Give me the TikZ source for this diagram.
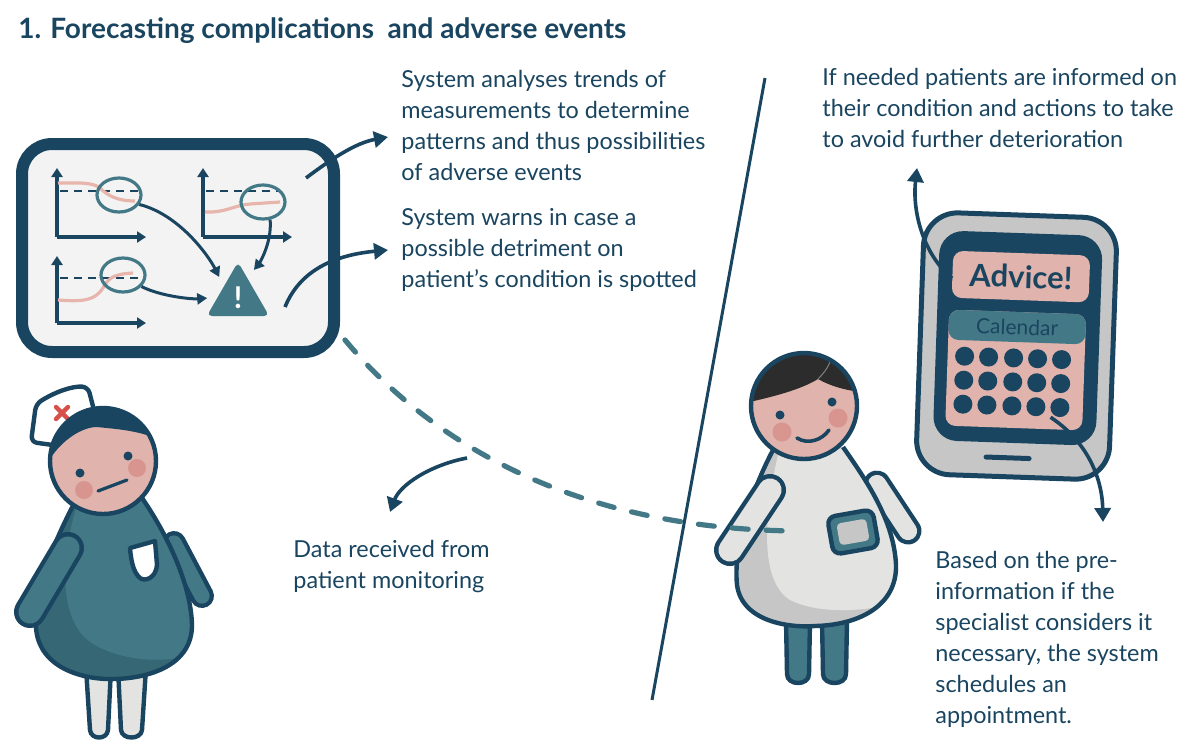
\documentclass[tikz,border=0pt]{standalone}
\usepackage{fontspec}
\setmainfont{Lato}
\usetikzlibrary{shapes.geometric,arrows.meta}

\definecolor{ink}{HTML}{1A4560}
\definecolor{petrol}{HTML}{437986}
\definecolor{petroldark}{HTML}{356874}
\definecolor{skin}{HTML}{E0B3AC}
\definecolor{blush}{HTML}{D8958F}
\definecolor{trend}{HTML}{E8B5AC}
\definecolor{screenbg}{HTML}{F3F3F3}
\definecolor{coat}{HTML}{E3E3E2}
\definecolor{coatshade}{HTML}{C6C6C6}
\definecolor{hairblack}{HTML}{2C2C2C}
\definecolor{crossred}{HTML}{D8504A}

\tikzset{
  outline/.style={draw=ink, line width=2.2pt, line join=round},
  axis/.style={ink, line width=2pt, -{Triangle[width=5.5pt,length=4.5pt]}},
  level/.style={ink, line width=1.1pt, dash pattern=on 4pt off 3pt},
  trendline/.style={trend, line width=1.6pt},
  zoomring/.style={ellipse, draw=petrol, line width=1.6pt, minimum width=22pt,
    minimum height=17pt, inner sep=0pt},
  smallarr/.style={ink, line width=1.5pt, -{Triangle[width=5.5pt,length=5pt]}, shorten >=5pt},
  bigarr/.style={ink, line width=1.8pt, -{Triangle[width=8pt,length=7pt]}},
  note/.style={anchor=north west, align=left, inner sep=0pt, text=ink,
    font=\fontsize{11.7}{15.5}\selectfont},
}

% capsule shaped arm: from, to, width, fill colour
\newcommand{\limb}[4]{%
  \draw[ink, line width=#3, line cap=round] #1 -- #2;
  \draw[#4, line width=#3-4.4pt, line cap=round] #1 -- #2;}

\begin{document}
\begin{tikzpicture}[x=0.5pt,y=-0.5pt]
\useasboundingbox[fill=white] (0,0) rectangle (1186,740);

\node[anchor=north west, inner sep=0pt, text=ink, font=\bfseries\fontsize{14}{16}\selectfont]
  (title) at (18,17) {1. Forecasting complications~ and adverse events};

% monitor with trend charts
\node[draw=ink, line width=6pt, fill=screenbg, rounded corners=15pt,
  minimum width=156pt, minimum height=104pt] (monitor) at (178,248) {};

\draw[axis] (57,237) -- (57,168);
\draw[axis] (57,237) -- (146,237);
\draw[level] (60,191) -- (140,191);
\draw[trendline] (58,183) .. controls (80,183) and (92,182) .. (100,188)
  .. controls (108,196) and (118,201) .. (135,201);
\node[zoomring] (e1) at (119,195) {};

\draw[axis] (203,237) -- (203,168);
\draw[axis] (203,237) -- (292,237);
\draw[level] (206,191) -- (278,191);
\draw[trendline] (205,212) .. controls (225,213) and (235,205) .. (250,204) -- (280,202);
\node[zoomring] (e2) at (263,202) {};

\draw[axis] (57,323) -- (57,256);
\draw[axis] (57,323) -- (146,323);
\draw[level] (60,278) -- (138,278);
\draw[trendline] (58,300) .. controls (85,302) and (95,300) .. (103,288)
  .. controls (108,279) and (112,274) .. (133,273);
\node[zoomring] (e3) at (123,275) {};

% warning sign
\node[regular polygon, regular polygon sides=3, fill=petrol, rounded corners=2.5pt,
  minimum size=36pt, inner sep=0pt, text=white,
  font=\bfseries\fontsize{15}{15}\selectfont] (warn) at (238,298) {!};

\draw[smallarr] (e1.-25) .. controls +(40,10) and +(-15,-30) .. (warn.140);
\draw[smallarr] (e2.-68) .. controls +(2,25) and +(10,-12) .. (warn.65);
\draw[smallarr] (e3.-32) .. controls +(20,10) and +(-25,2) .. (warn.178);

% outputs of the monitor
\coordinate (trendOut) at (306,178);
\coordinate (warnOut) at (285,307);
\coordinate (trendIn) at (388,137);
\coordinate (warnIn) at (388,250);
\draw[bigarr] (trendOut) .. controls (330,160) and (355,143) .. (trendIn);
\draw[bigarr] (warnOut) .. controls (300,270) and (335,255) .. (warnIn);

\node[note] (trends) at (401,70) {System analyses trends of\\measurements to determine\\
  patterns and thus possibilities\\of adverse events};
\node[note] (warns) at (401,208) {System warns in case a\\possible detriment on\\
  patient’s condition is spotted};
\node[note] (inform) at (822,68) {If needed patients are informed on\\
  their condition and actions to take\\to avoid further deterioration};
\node[note] (data) at (293,540) {Data received from\\patient monitoring};
\node[note] (based) at (935,551) {Based on the pre-\\information if the\\
  specialist considers it\\necessary, the system\\schedules an\\appointment.};

% divider
\draw[ink, line width=1.5pt] (765,78) -- (652,700);

% nurse
\draw[outline, fill=coat] (86,668) -- (90,730) .. controls (91,740) and (107,740) .. (108,730) -- (111,668) -- cycle;
\draw[outline, fill=coat] (118,668) -- (121,730) .. controls (122,740) and (141,740) .. (142,730) -- (146,668) -- cycle;
\limb{(174,543)}{(202,596)}{12pt}{petrol}
\begin{scope}
  \clip (76,500) .. controls (52,545) and (30,600) .. (37,635) .. controls (45,672) and (90,680) .. (115,679)
    .. controls (150,678) and (192,665) .. (192,625) .. controls (191,585) and (168,535) .. (140,495) -- cycle;
  \fill[petroldark] (0,480) rectangle (220,700);
  \fill[petrol] (77,505) .. controls (60,560) and (58,625) .. (95,645)
    .. controls (125,662) and (170,665) .. (210,650) -- (210,480) -- cycle;
\end{scope}
\draw[outline] (76,500) .. controls (52,545) and (30,600) .. (37,635) .. controls (45,672) and (90,680) .. (115,679)
    .. controls (150,678) and (192,665) .. (192,625) .. controls (191,585) and (168,535) .. (140,495);
\draw[outline, fill=white] (130,548) -- (155,541) -- (157,565) .. controls (156,578) and (145,582) .. (140,578)
  .. controls (133,572) and (131,560) .. cycle;
% cap
\draw[outline, fill=white, rounded corners=3pt] (31,442) -- (36,404) .. controls (55,392) and (72,386) .. (88,387)
  -- (96,418) -- (60,446) -- cycle;
\draw[crossred, line width=2.2pt, line cap=round] (56,407) -- (68,419) (68,407) -- (56,419);
\begin{scope}
  \clip (103,461) circle[radius=53];
  \fill[skin] (103,461) circle[radius=53];
  \fill[ink] (40,470) -- (50,459) .. controls (62,440) and (82,427) .. (97,427)
    .. controls (115,429) and (138,430) .. (160,440) -- (160,400) -- (40,400) -- cycle;
\end{scope}
\draw[outline] (103,461) circle[radius=53];
\fill[ink] (80,473) circle[radius=4.5] (128,456) circle[radius=4.5];
\fill[blush] (84,490) circle[radius=9] (137,468) circle[radius=9];
\draw[ink, line width=1.6pt, line cap=round] (98,491) -- (127,480);
\limb{(68,548)}{(30,612)}{16pt}{petrol}

% patient
\draw[outline, fill=petrol] (786,620) -- (787,674) .. controls (787,686) and (809,686) .. (809,674) -- (810,620) -- cycle;
\draw[outline, fill=petrol] (822,620) -- (823,674) .. controls (823,686) and (846,686) .. (846,674) -- (847,620) -- cycle;
\limb{(877,484)}{(908,531)}{13.5pt}{coat}
\begin{scope}
  \clip (773,450) .. controls (752,490) and (733,545) .. (737,585) .. controls (742,622) and (790,628) .. (815,626)
    .. controls (860,625) and (897,605) .. (896,565) .. controls (894,520) and (866,480) .. (843,447) -- cycle;
  \fill[coatshade] (720,430) rectangle (910,640);
  \fill[coat] (778,455) .. controls (765,510) and (758,580) .. (790,600)
    .. controls (820,615) and (870,612) .. (905,600) -- (905,440) -- cycle;
\end{scope}
\draw[outline] (773,450) .. controls (752,490) and (733,545) .. (737,585) .. controls (742,622) and (790,628) .. (815,626)
    .. controls (860,625) and (897,605) .. (896,565) .. controls (894,520) and (866,480) .. (843,447);
\begin{scope}[shift={(853,532)}, rotate=10]
  \draw[outline, fill=petrol, rounded corners=4pt] (-23,-19) rectangle (23,19);
  \fill[coatshade, rounded corners=2pt] (-15,-11) rectangle (15,11);
\end{scope}
\begin{scope}
  \clip (804,406) circle[radius=53];
  \fill[skin] (804,406) circle[radius=53];
  \fill[hairblack] (745,403) .. controls (772,397) and (800,390) .. (818,379)
    .. controls (830,386) and (845,390) .. (860,392) -- (860,340) -- (745,340) -- cycle;
  \draw[gray, line width=0.5pt] (818,379) .. controls (825,372) and (830,365) .. (832,355);
\end{scope}
\draw[outline] (804,406) circle[radius=53];
\fill[ink] (780,415) circle[radius=4.5] (832,402) circle[radius=4.5];
\fill[blush] (782,432) circle[radius=9.5] (838,418) circle[radius=9.5];
\draw[ink, line width=1.8pt, line cap=round] (797,438) .. controls (808,445) and (822,440) .. (829,430);
\limb{(770,490)}{(730,550)}{16pt}{coat}

% data link from the patient to the monitor
\coordinate (feedStart) at (345,340);
\coordinate (feedEnd) at (800,531);
\draw[petrol, line width=2.6pt, line cap=round, dash pattern=on 8pt off 9pt]
  (feedStart) .. controls (420,430) and (560,530) .. (feedEnd);
\coordinate (feedOut) at (467,458);
\coordinate (dataIn) at (390,512);
\draw[bigarr] (feedOut) .. controls (430,465) and (400,485) .. (dataIn);

% phone
\begin{scope}[rotate around={-2:(1016,346)}, transform shape]
  \draw[draw=ink, line width=2.5pt, fill=coatshade, rounded corners=17pt] (920,215) rectangle (1113,477);
  \fill[ink, rounded corners=12pt] (936,233) rectangle (1099,443);
  \node[fill=skin, rounded corners=5pt, minimum width=68.5pt, minimum height=23.5pt, text=ink,
    font=\bfseries\fontsize{15.5}{15.5}\selectfont] (advice) at (1018.5,276.5) {Advice!};
  \fill[skin, rounded corners=5pt] (948,312) rectangle (1085,428);
  \node[fill=petrol, rounded corners=5pt, minimum width=68.5pt, minimum height=15pt, text=ink,
    font=\fontsize{10.5}{10.5}\selectfont] (calendar) at (1016.5,327) {Calendar};
  \foreach \cx in {965,989,1014,1038,1062}
    \foreach \cy in {358,382,406}
      \fill[ink] (\cx,\cy) circle[radius=9.5];
  \draw[ink, line width=2.5pt, line cap=round] (990,458) -- (1033,458);
  \coordinate (apptOut) at (1053,416);
\end{scope}
\coordinate (informIn) at (917,168);
\coordinate (basedIn) at (1103,522);
\draw[bigarr] ([yshift=-2pt]advice.west) .. controls +(-28,-23) and +(-5,45) .. (informIn);
\draw[bigarr] (apptOut) .. controls (1085,440) and (1102,475) .. (basedIn);

\end{tikzpicture}
\end{document}
